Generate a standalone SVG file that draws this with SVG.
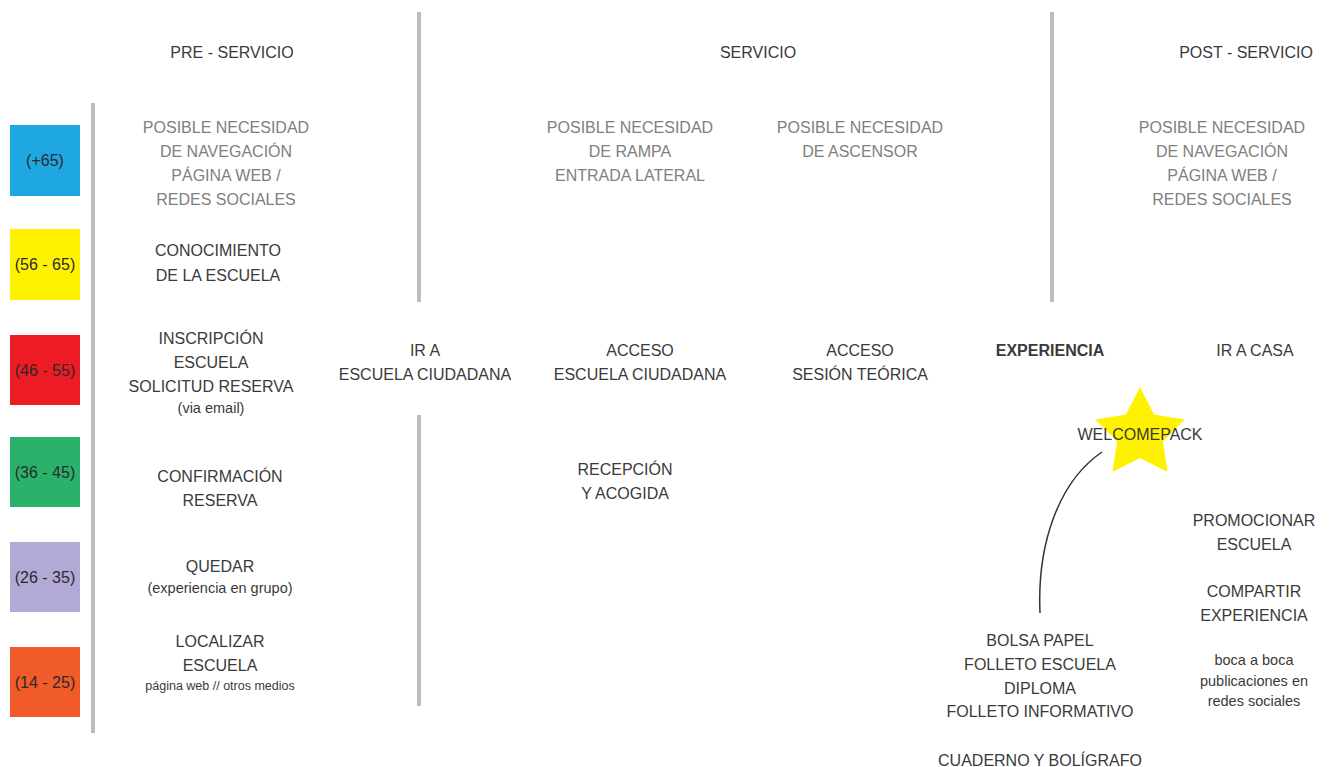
<svg xmlns="http://www.w3.org/2000/svg" width="1336" height="767" viewBox="0 0 1336 767">
<style>
text{font-family:"Liberation Sans",Arial,sans-serif;font-size:16px;fill:#3a3a3a;text-anchor:middle}
.g{fill:#808080}
.s{font-size:14.5px}
.xs{font-size:12.5px}
.b{font-weight:bold}
.sep{stroke:#bdbdbd;stroke-width:4;fill:none}
.box text{fill:#2a2a2a}
</style>
<rect width="1336" height="767" fill="#fff"/>
<g id="separators">
<line class="sep" x1="93" y1="103" x2="93" y2="733"/>
<line class="sep" x1="419" y1="12" x2="419" y2="302"/>
<line class="sep" x1="419" y1="415" x2="419" y2="706"/>
<line class="sep" x1="1052" y1="12" x2="1052" y2="302"/>
</g>
<g id="headers">
<text x="232" y="58">PRE - SERVICIO</text>
<text x="758" y="58">SERVICIO</text>
<text x="1246" y="58">POST - SERVICIO</text>
</g>
<g id="age-boxes" class="box">
<g id="age-65"><rect x="10" y="125" width="70" height="71" fill="#1ea7e1"/><text x="45" y="166">(+65)</text></g>
<g id="age-56"><rect x="10" y="229" width="70" height="71" fill="#fff200"/><text x="45" y="270">(56 - 65)</text></g>
<g id="age-46"><rect x="10" y="335" width="70" height="70" fill="#ed1c24"/><text x="45" y="376">(46 - 55)</text></g>
<g id="age-36"><rect x="10" y="437" width="70" height="70" fill="#2bb26a"/><text x="45" y="478">(36 - 45)</text></g>
<g id="age-26"><rect x="10" y="542" width="70" height="70" fill="#b3a9d6"/><text x="45" y="583">(26 - 35)</text></g>
<g id="age-14"><rect x="10" y="647" width="70" height="70" fill="#f15a29"/><text x="45" y="688">(14 - 25)</text></g>
</g>
<g id="pre-navegacion" class="g">
<text class="g" x="226" y="133">POSIBLE NECESIDAD</text>
<text class="g" x="226" y="157">DE NAVEGACIÓN</text>
<text class="g" x="226" y="181">PÁGINA WEB /</text>
<text class="g" x="226" y="205">REDES SOCIALES</text>
</g>
<g id="conocimiento">
<text x="218" y="256">CONOCIMIENTO</text>
<text x="218" y="281">DE LA ESCUELA</text>
</g>
<g id="inscripcion">
<text x="211" y="344">INSCRIPCIÓN</text>
<text x="211" y="368">ESCUELA</text>
<text x="211" y="392">SOLICITUD RESERVA</text>
<text class="s" x="211" y="413">(via email)</text>
</g>
<g id="confirmacion">
<text x="220" y="482">CONFIRMACIÓN</text>
<text x="220" y="506">RESERVA</text>
</g>
<g id="quedar">
<text x="220" y="572">QUEDAR</text>
<text class="s" x="220" y="593">(experiencia en grupo)</text>
</g>
<g id="localizar">
<text x="220" y="647">LOCALIZAR</text>
<text x="220" y="671">ESCUELA</text>
<text class="xs" x="220" y="690">página web // otros medios</text>
</g>
<g id="ir-a-escuela">
<text x="425" y="356">IR A</text>
<text x="425" y="380">ESCUELA CIUDADANA</text>
</g>
<g id="rampa">
<text class="g" x="630" y="133">POSIBLE NECESIDAD</text>
<text class="g" x="630" y="157">DE RAMPA</text>
<text class="g" x="630" y="181">ENTRADA LATERAL</text>
</g>
<g id="acceso-escuela">
<text x="640" y="356">ACCESO</text>
<text x="640" y="380">ESCUELA CIUDADANA</text>
</g>
<g id="recepcion">
<text x="625" y="475">RECEPCIÓN</text>
<text x="625" y="499">Y ACOGIDA</text>
</g>
<g id="ascensor">
<text class="g" x="860" y="133">POSIBLE NECESIDAD</text>
<text class="g" x="860" y="157">DE ASCENSOR</text>
</g>
<g id="acceso-sesion">
<text x="860" y="356">ACCESO</text>
<text x="860" y="380">SESIÓN TEÓRICA</text>
</g>
<g id="experiencia">
<text class="b" x="1050" y="356">EXPERIENCIA</text>
</g>
<g id="welcomepack">
<polygon fill="#fff200" points="1140,387 1154.1,414.6 1184.7,419.5 1162.8,441.4 1167.6,472 1140,458 1112.4,472 1117.2,441.4 1095.3,419.5 1125.9,414.6"/>
<text x="1140" y="440">WELCOMEPACK</text>
</g>
<g id="contenido-pack">
<text x="1040" y="646">BOLSA PAPEL</text>
<text x="1040" y="670">FOLLETO ESCUELA</text>
<text x="1040" y="694">DIPLOMA</text>
<text x="1040" y="717">FOLLETO INFORMATIVO</text>
<text x="1040" y="766">CUADERNO Y BOLÍGRAFO</text>
</g>
<g id="ir-a-casa">
<text x="1255" y="356">IR A CASA</text>
</g>
<g id="post-navegacion">
<text class="g" x="1222" y="133">POSIBLE NECESIDAD</text>
<text class="g" x="1222" y="157">DE NAVEGACIÓN</text>
<text class="g" x="1222" y="181">PÁGINA WEB /</text>
<text class="g" x="1222" y="205">REDES SOCIALES</text>
</g>
<g id="promocionar">
<text x="1254" y="526">PROMOCIONAR</text>
<text x="1254" y="550">ESCUELA</text>
</g>
<g id="compartir">
<text x="1254" y="597">COMPARTIR</text>
<text x="1254" y="621">EXPERIENCIA</text>
</g>
<g id="boca">
<text class="s" x="1254" y="665">boca a boca</text>
<text class="s" x="1254" y="686">publicaciones en</text>
<text class="s" x="1254" y="706">redes sociales</text>
</g>
<g id="connectors">
<path d="M1040,613 C1037,545 1058,482 1102,452" fill="none" stroke="#333" stroke-width="1.5"/>
</g>
</svg>
